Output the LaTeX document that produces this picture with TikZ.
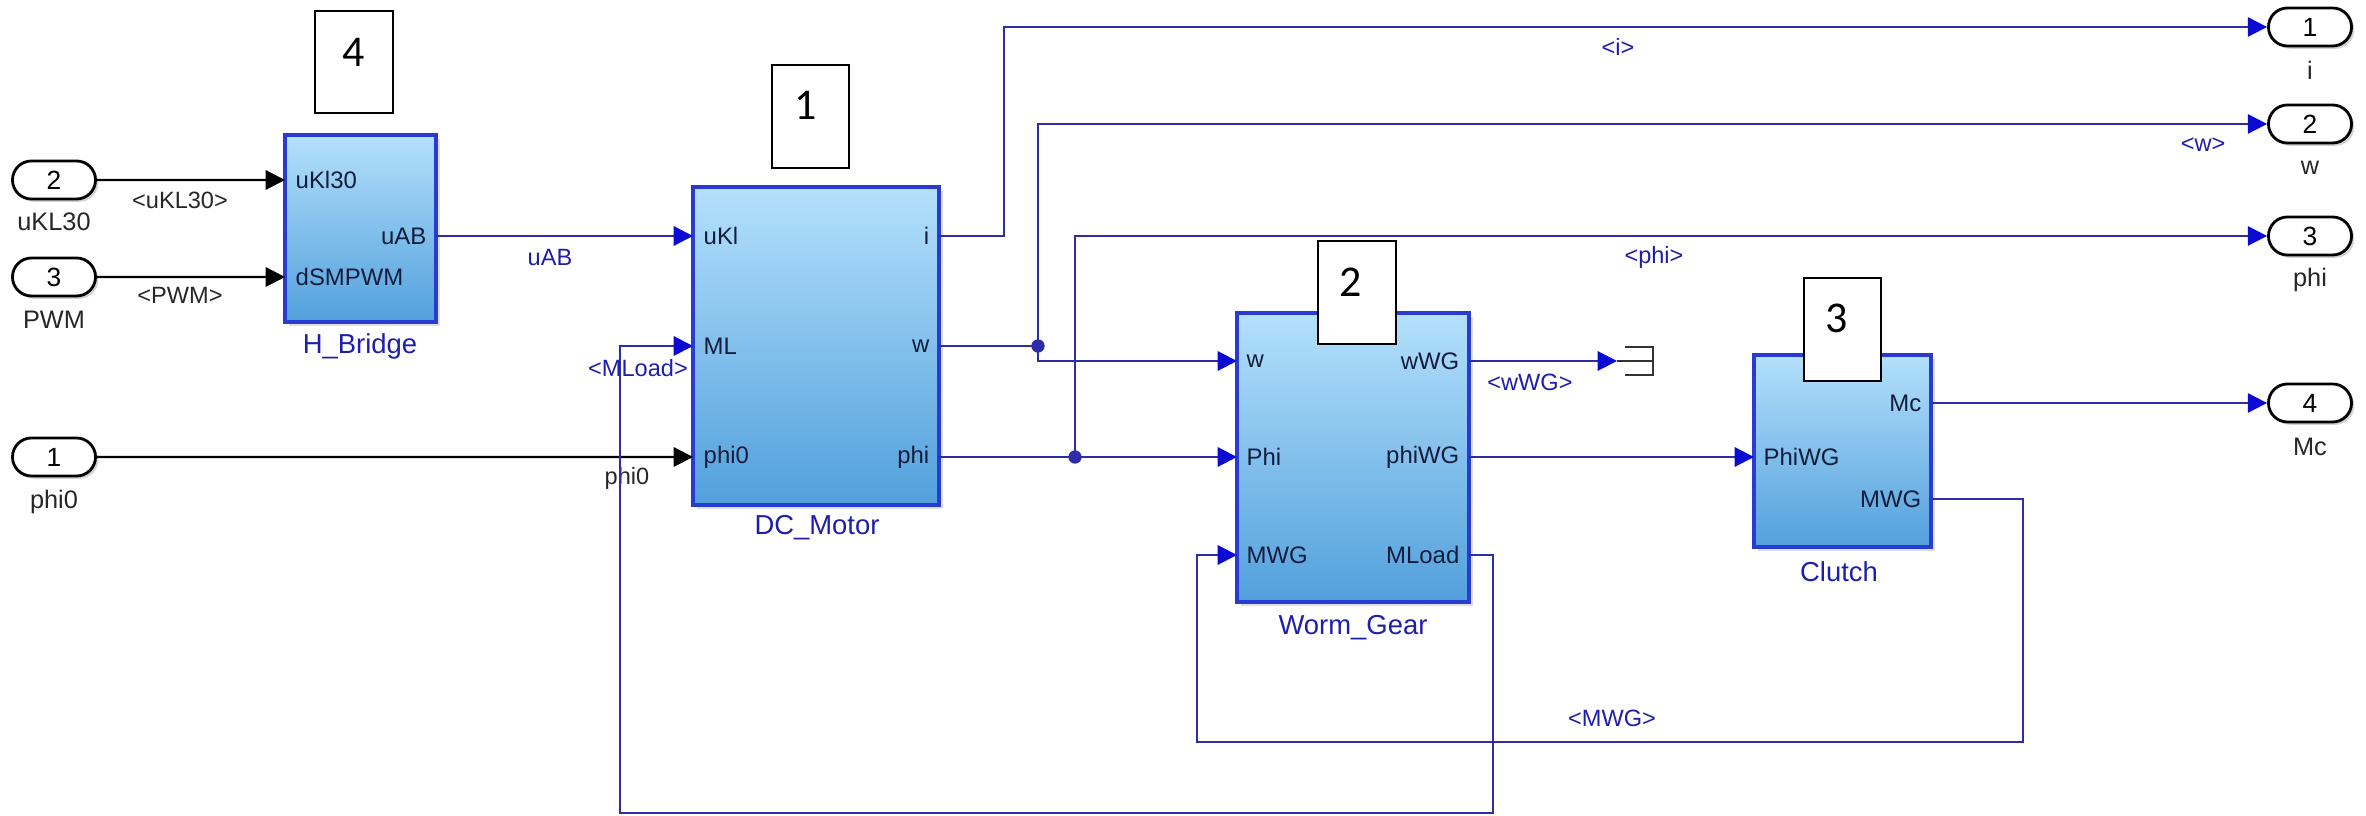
\documentclass[tikz,border=0pt]{standalone}
\usepackage{fontspec}
\setmainfont{Liberation Sans}
\newfontfamily\numfont{Carlito}
\usetikzlibrary{arrows.meta,shapes.misc,fit,shadows}

\definecolor{wire}{RGB}{45,45,165}
\definecolor{tipblue}{RGB}{10,10,210}
\definecolor{blkedge}{RGB}{40,60,210}
\definecolor{blktop}{RGB}{180,224,252}
\definecolor{blkmid}{RGB}{140,200,242}
\definecolor{blkbot}{RGB}{82,160,220}
\definecolor{porttext}{RGB}{20,28,60}
\definecolor{nametext}{RGB}{30,30,170}

\begin{document}
\begin{tikzpicture}[x=0.01cm,y=-0.01cm,
  wireline/.style={draw=wire, line width=0.6pt},
  sig/.style={wireline, -{Triangle[length=5.5pt,width=5.5pt,color=tipblue]}},
  blksig/.style={draw=black, line width=0.6pt, -{Triangle[length=5.5pt,width=5.5pt,color=black]}},
  block/.style={draw=blkedge, line width=0.9pt, top color=blktop, middle color=blkmid, bottom color=blkbot,
     inner sep=0pt, drop shadow={shadow xshift=1.2pt, shadow yshift=-1.2pt, opacity=0.25}},
  ioport/.style={rounded rectangle, draw=black, line width=0.8pt, fill=white,
     minimum width=0.83cm, minimum height=0.38cm, inner sep=0pt,
     font=\fontsize{7.5}{8}\selectfont,
     drop shadow={shadow xshift=0.8pt, shadow yshift=-0.8pt, opacity=0.35}},
  numbox/.style={draw=black, line width=0.7pt, fill=white, inner sep=0pt},
  digit/.style={font=\numfont\fontsize{12.5}{13}\selectfont, inner sep=0pt},
  pin/.style={font=\fontsize{6.8}{7}\selectfont, text=porttext, inner sep=0pt, anchor=west},
  pout/.style={font=\fontsize{6.8}{7}\selectfont, text=porttext, inner sep=0pt, anchor=east},
  bname/.style={font=\fontsize{7.8}{8}\selectfont, text=nametext, inner sep=0pt},
  slbl/.style={font=\fontsize{6.7}{7}\selectfont, text=nametext, inner sep=0pt},
  slblk/.style={font=\fontsize{6.7}{7}\selectfont, text=black!85, inner sep=0pt},
  iolbl/.style={font=\fontsize{7.2}{8}\selectfont, text=black!85, inner sep=0pt}
]
\useasboundingbox (0,0) rectangle (2366,816);

% ---------------- blocks ----------------
\node[block, fit={(285,135) (436,322)}] (hb) {};
\node[block, fit={(693,187) (939,505)}] (dcm) {};
\node[block, fit={(1237,313) (1469,602)}] (wg) {};
\node[block, fit={(1754,355) (1931,547)}] (cl) {};

% port coordinates
\coordinate (hb-in1) at (285,180);
\coordinate (hb-in2) at (285,277);
\coordinate (hb-out) at (436,236);
\coordinate (dcm-in1) at (693,236);
\coordinate (dcm-in2) at (693,346);
\coordinate (dcm-in3) at (693,457);
\coordinate (dcm-o1) at (939,236);
\coordinate (dcm-o2) at (939,346);
\coordinate (dcm-o3) at (939,457);
\coordinate (wg-in1) at (1237,361);
\coordinate (wg-in2) at (1237,457);
\coordinate (wg-in3) at (1237,555);
\coordinate (wg-o1) at (1469,361);
\coordinate (wg-o2) at (1469,457);
\coordinate (wg-o3) at (1469,555);
\coordinate (cl-in) at (1754,457);
\coordinate (cl-o1) at (1931,403);
\coordinate (cl-o2) at (1931,499);
\coordinate (jw) at (1038,346);
\coordinate (jp) at (1075,457);
\coordinate (term) at (1617,361);

% port labels
\node[pin] at (295,180) {uKl30};
\node[pin] at (295,277) {dSMPWM};
\node[pout] at (427,236) {uAB};
\node[pin] at (703,236) {uKl};
\node[pin] at (703,346) {ML};
\node[pin] at (703,457) {phi0};
\node[pout] at (930,236) {i};
\node[pout] at (930,346) {w};
\node[pout] at (930,457) {phi};
\node[pin] at (1246,361) {w};
\node[pin] at (1246,457) {Phi};
\node[pin] at (1246,555) {MWG};
\node[pout] at (1460,361) {wWG};
\node[pout] at (1460,457) {phiWG};
\node[pout] at (1460,555) {MLoad};
\node[pin] at (1763,457) {PhiWG};
\node[pout] at (1922,403) {Mc};
\node[pout] at (1922,499) {MWG};

% block names
\node[bname] at (360,346) {H\_Bridge};
\node[bname] at (817,528) {DC\_Motor};
\node[bname] at (1353,628) {Worm\_Gear};
\node[bname] at (1839,572) {Clutch};

% ---------------- number boxes ----------------
\node[numbox, fit={(315,11) (393,113)}] (n4) {};
\node[digit] at (354,52) {4};
\node[numbox, fit={(772,65) (849,168)}] (n1) {};
\node[digit] at (806,105) {1};
\node[numbox, fit={(1318,241) (1396,344)}] (n2) {};
\node[digit] at (1351,282) {2};
\node[numbox, fit={(1804,278) (1881,381)}] (n3) {};
\node[digit] at (1837,318) {3};

% ---------------- in/out ports ----------------
\node[ioport] (in2) at (54,180) {2};
\node[iolbl] at (54,222) {uKL30};
\node[ioport] (in3) at (54,277) {3};
\node[iolbl] at (54,320) {PWM};
\node[ioport] (in1) at (54,457) {1};
\node[iolbl] at (54,502) {phi0};

\node[ioport] (out1) at (2310,27) {1};
\node[iolbl] at (2310,70) {i};
\node[ioport] (out2) at (2310,124) {2};
\node[iolbl] at (2310,168) {w};
\node[ioport] (out3) at (2310,236) {3};
\node[iolbl] at (2310,280) {phi};
\node[ioport] (out4) at (2310,403) {4};
\node[iolbl] at (2310,447) {Mc};

% ---------------- connectors ----------------
\draw[blksig] (in2) -- (hb-in1);
\draw[blksig] (in3) -- (hb-in2);
\draw[blksig] (in1) -- (dcm-in3);
\node[slblk] at (180,200) {<uKL30>};
\node[slblk] at (180,295) {<PWM>};
\node[slblk] at (627,478) {phi0};

\draw[sig] (hb-out) -- (dcm-in1);
\node[slbl] at (550,258) {uAB};

\draw[sig] (dcm-o1) -- (1004,236) |- (out1);
\node[slbl] at (1618,47) {<i>};

\draw[wireline] (dcm-o2) -- (jw);
\draw[sig] (jw) |- (out2);
\draw[sig] (jw) |- (wg-in1);
\fill[wire] (jw) circle (1.9pt);
\node[slbl] at (2203,145) {<w>};

\draw[wireline] (dcm-o3) -- (jp);
\draw[sig] (jp) -- (wg-in2);
\draw[sig] (jp) |- (out3);
\fill[wire] (jp) circle (1.9pt);
\node[slbl] at (1654,257) {<phi>};

\draw[sig] (wg-o1) -- (term);
\node[slbl] at (1530,382) {<wWG>};
\draw[black!80, line width=0.6pt] (1625,347) -- (1653,347) -- (1653,375) -- (1625,375)
      (term) -- (1653,361);

\draw[sig] (wg-o2) -- (cl-in);

\draw[sig] (wg-o3) -- (1493,555) -- (1493,813) -- (620,813) -- (620,346) -- (dcm-in2);
\node[slbl] at (638,368) {<MLoad>};

\draw[sig] (cl-o1) -- (out4);

\draw[sig] (cl-o2) -- (2023,499) -- (2023,742) -- (1197,742) -- (1197,555) -- (wg-in3);
\node[slbl] at (1612,718) {<MWG>};

\end{tikzpicture}
\end{document}
